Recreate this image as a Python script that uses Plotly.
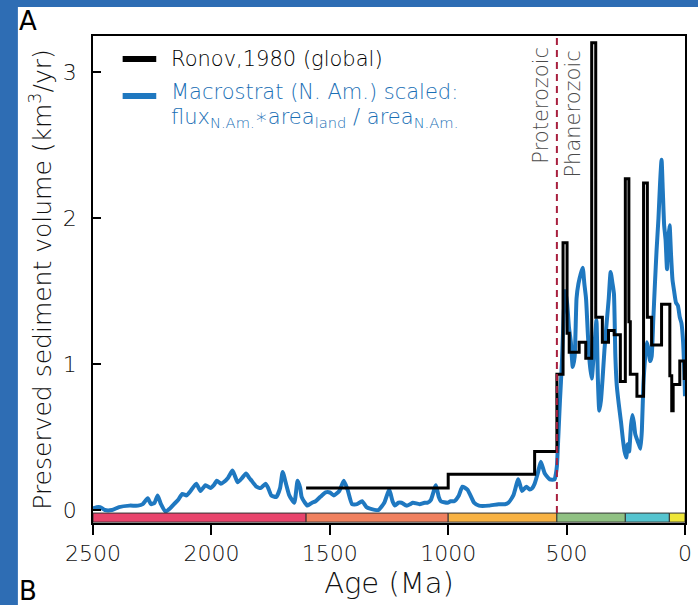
import plotly.graph_objects as go

# ---------------- data ----------------
# Ronov (1980) global step series: start age of each interval (Ma) and value (km^3/yr)
ronov_age = [1600, 1000, 635, 541, 515, 498, 489, 447, 419, 394, 377, 349, 323, 299, 273,
             252, 237, 231, 203, 175, 159, 141, 99, 64, 56, 50, 22, 3, 0]
ronov_val = [0.15, 0.245, 0.40, 0.93, 1.83, 1.21, 1.08, 1.15, 1.04, 3.2, 1.32, 1.15, 1.23, 1.20, 0.88,
             2.27, 1.29, 0.93, 0.78, 2.24, 1.32, 1.13, 1.41, 0.92, 0.68, 0.86, 1.02, 0.90, 0.90]

# Macrostrat (N. Am.) scaled series
macro_age = [2500, 2485, 2470, 2450, 2420, 2390, 2346, 2310, 2290, 2269, 2255, 2240, 2227, 2213,
             2193, 2175, 2158, 2140, 2123, 2105, 2088, 2064, 2046, 2025, 2004, 1990, 1977, 1960,
             1949, 1930, 1911, 1900, 1889, 1870, 1854, 1840, 1830, 1810, 1792, 1771, 1760, 1747,
             1726, 1710, 1699, 1685, 1671, 1650, 1636, 1625, 1619, 1605, 1594, 1575, 1560, 1540,
             1518, 1500, 1483, 1460, 1441, 1425, 1406, 1385, 1364, 1345, 1330, 1295, 1270, 1249,
             1235, 1225, 1210, 1197, 1176, 1160, 1149, 1121, 1100, 1087, 1073, 1052, 1040, 1031,
             1003, 990, 975, 955, 940, 919, 900, 891, 870, 829, 787, 760, 746, 725, 704, 688, 670,
             656, 645, 635, 622, 609, 592, 571, 551, 545,
             541, 535, 528, 520, 512, 506, 498, 490, 482, 474, 466, 458, 450, 440, 432, 425, 418,
             410, 402, 394, 386, 380, 374, 368, 362, 355, 348, 340, 330, 322, 314, 306, 300, 294,
             288, 280, 270, 262, 255, 248, 242, 236, 228, 222, 216, 210, 202, 195, 188, 182, 176,
             168, 161, 154, 147, 141, 134, 127, 120, 112, 105, 99, 94, 88, 82, 76, 71, 65, 59, 53,
             46, 38, 30, 22, 15, 8, 3, 0]
macro_val = [0.01, 0.02, 0.02, 0.00, 0.00, 0.02, 0.03, 0.03, 0.04, 0.08, 0.04, 0.05, 0.10, 0.04,
             -0.01, 0.01, 0.04, 0.07, 0.11, 0.10, 0.13, 0.18, 0.13, 0.17, 0.15, 0.17, 0.20, 0.18,
             0.19, 0.22, 0.27, 0.23, 0.19, 0.22, 0.25, 0.22, 0.20, 0.16, 0.15, 0.18, 0.15, 0.10,
             0.09, 0.15, 0.26, 0.18, 0.10, 0.05, 0.20, 0.15, 0.09, 0.05, 0.03, 0.05, 0.06, 0.09,
             0.12, 0.12, 0.10, 0.13, 0.20, 0.14, 0.04, 0.04, 0.06, 0.02, 0.01, 0.00, 0.05, 0.14,
             0.06, 0.03, 0.05, 0.05, 0.03, 0.04, 0.05, 0.04, 0.05, 0.05, 0.07, 0.17, 0.09, 0.06,
             0.05, 0.06, 0.06, 0.10, 0.16, 0.14, 0.08, 0.05, 0.03, 0.03, 0.04, 0.04, 0.05, 0.10,
             0.21, 0.13, 0.16, 0.14, 0.15, 0.18, 0.25, 0.33, 0.25, 0.21, 0.21, 0.25,
             0.30, 0.50, 0.75, 1.00, 1.35, 1.50, 1.42, 1.25, 1.15, 0.98, 1.05, 1.45, 1.55, 1.62,
             1.66, 1.55, 1.45, 1.20, 1.00, 0.90, 1.05, 1.18, 1.30, 0.90, 0.68, 0.75, 0.90, 1.10,
             1.30, 1.45, 1.63, 1.55, 1.48, 1.05, 0.85, 0.73, 0.60, 0.48, 0.40, 0.36, 0.45, 0.40,
             0.58, 0.65, 0.60, 0.52, 0.48, 0.45, 0.42, 0.55, 0.85, 1.05, 1.15, 1.10, 1.02, 1.05,
             1.30, 1.55, 1.78, 2.00, 2.25, 2.40, 2.20, 1.95, 1.85, 1.65, 1.85, 1.95, 1.75, 1.58,
             1.50, 1.42, 1.40, 1.32, 1.28, 1.15, 0.95, 0.78]

# Geologic time bar
unit_names = ["Paleoproterozoic", "Mesoproterozoic", "Neoproterozoic", "Paleozoic", "Mesozoic", "Cenozoic"]
unit_start = [2500, 1600, 1000, 541, 252, 66]
unit_end = [1600, 1000, 541, 252, 66, 0]
unit_color = ["#E8446C", "#F0815F", "#F8B243", "#90C183", "#55C4CF", "#EEE638"]

eon_boundary = 541
x_ticks = [2500, 2000, 1500, 1000, 500, 0]
y_ticks = [0, 1, 2, 3]

BLUE = "#1F78C0"
FONT = "DejaVu Sans"
W = 300  # light text weight
TXT = "#111111"

fig = go.Figure()

fig.add_trace(go.Scatter(x=macro_age, y=macro_val, mode="lines",
                         line=dict(color=BLUE, width=4, shape="spline", smoothing=0.5),
                         showlegend=False, hoverinfo="skip"))
fig.add_trace(go.Scatter(x=ronov_age, y=ronov_val, mode="lines",
                         line=dict(color="black", width=3, shape="hv"),
                         showlegend=False, hoverinfo="skip"))

bar_y0, bar_y1 = -0.083, -0.021
for s, e, c in zip(unit_start, unit_end, unit_color):
    fig.add_shape(type="rect", xref="x", yref="y", x0=s, x1=e, y0=bar_y0, y1=bar_y1,
                  fillcolor=c, line=dict(color="#333333", width=1), layer="above")

# eon boundary
fig.add_shape(type="line", xref="x", yref="y", x0=eon_boundary, x1=eon_boundary,
              y0=bar_y1, y1=3.25, line=dict(color="#A8203E", width=2, dash="7px,5px"))
fig.add_annotation(x=eon_boundary, y=0.983, xref="x", yref="paper", text="Proterozoic",
                   textangle=-90, showarrow=False, xanchor="right", yanchor="top", xshift=-2,
                   font=dict(family=FONT, size=21, color="#4a4a4a", weight=W))
fig.add_annotation(x=eon_boundary, y=0.975, xref="x", yref="paper", text="Phanerozoic",
                   textangle=-90, showarrow=False, xanchor="left", yanchor="top", xshift=2,
                   font=dict(family=FONT, size=21, color="#4a4a4a", weight=W))

# legend (manual)
def px2paper_x(px):
    return (px - 93) / 599.0

def px2paper_y(py):
    return (523 - py) / 487.0

fig.add_shape(type="rect", xref="paper", yref="paper",
              x0=px2paper_x(123), x1=px2paper_x(157), y0=px2paper_y(62), y1=px2paper_y(56),
              fillcolor="black", line=dict(width=0))
fig.add_shape(type="rect", xref="paper", yref="paper",
              x0=px2paper_x(123), x1=px2paper_x(157), y0=px2paper_y(99), y1=px2paper_y(93),
              fillcolor=BLUE, line=dict(width=0))
fig.add_annotation(x=px2paper_x(170), y=px2paper_y(59), xref="paper", yref="paper",
                   text="Ronov,1980 (global)", showarrow=False, xanchor="left", yanchor="middle",
                   font=dict(family=FONT, size=21, color="#000000", weight=W))
fig.add_annotation(x=px2paper_x(170), y=px2paper_y(92), xref="paper", yref="paper",
                   text="Macrostrat (N. Am.) scaled:", showarrow=False, xanchor="left", yanchor="middle",
                   font=dict(family=FONT, size=21, color="#1A6FB5", weight=W))
fig.add_annotation(x=px2paper_x(170), y=px2paper_y(118), xref="paper", yref="paper",
                   text="flux<sub>N.Am.</sub>\u2217area<sub>land</sub> / area<sub>N.Am.</sub>",
                   showarrow=False, xanchor="left", yanchor="middle",
                   font=dict(family=FONT, size=21, color="#1A6FB5", weight=W))

# panel letters
fig.add_annotation(x=px2paper_x(26), y=px2paper_y(20), xref="paper", yref="paper", text="A",
                   showarrow=False, xshift=-10, yshift=16,
                   font=dict(family=FONT, size=26, color="black"))
fig.add_annotation(x=px2paper_x(26), y=px2paper_y(594), xref="paper", yref="paper", text="B",
                   showarrow=False, xshift=-10, yshift=-14,
                   font=dict(family=FONT, size=26, color="black"))

# white panel over blue border
fig.add_shape(type="rect", xref="paper", yref="paper", layer="below",
              x0=px2paper_x(17), x1=px2paper_x(710), y0=px2paper_y(620), y1=px2paper_y(7),
              fillcolor="white", line=dict(width=0))

fig.update_layout(
    width=698, height=605,
    margin=dict(l=93, r=6, t=36, b=82),
    paper_bgcolor="#2E6DB4",
    plot_bgcolor="white",
    showlegend=False,
    font=dict(family=FONT, color=TXT),
)
fig.update_xaxes(range=[2500, 0], tickvals=x_ticks, ticks="outside", ticklen=10, tickwidth=1.5,
                 tickcolor="black", showgrid=False, zeroline=False, showline=True, linecolor="black",
                 linewidth=1.5, mirror=True, tickfont=dict(family=FONT, size=22, color=TXT, weight=W),
                 title=dict(text="Age (Ma)", font=dict(family=FONT, size=29, color=TXT, weight=W),
                            standoff=6))
fig.update_yaxes(range=[-0.089, 3.247], tickvals=y_ticks, ticks="inside", ticklen=8, tickwidth=1.5,
                 tickcolor="black", showgrid=False, zeroline=False, showline=True, linecolor="black",
                 linewidth=1.5, mirror=True, tickfont=dict(family=FONT, size=22, color=TXT, weight=W),
                 ticklabelstandoff=10,
                 title=dict(text="Preserved sediment volume (km<sup>3</sup>/yr)",
                            font=dict(family=FONT, size=25, color=TXT, weight=W), standoff=4))

fig.write_html("out.html", config={"displayModeBar": False},
               post_script="document.body.style.margin='0px';document.body.style.overflow='hidden';")
